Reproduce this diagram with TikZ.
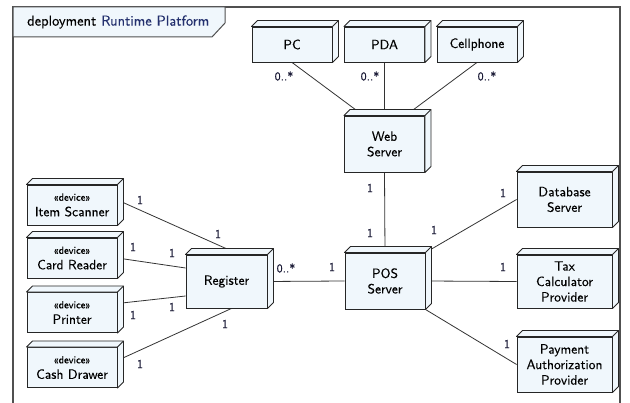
\documentclass[tikz,border=0pt]{standalone}
\usepackage{fontspec}
\usetikzlibrary{backgrounds}
% a slightly heavier Latin Modern Sans for all labels
\newfontfamily\diagfont{lmsans10-regular}[Extension=.otf, FakeBold=0.35]
\definecolor{boxfill}{HTML}{F0F7FC}
\definecolor{framegray}{HTML}{505050}
\definecolor{navy}{HTML}{23306E}
\definecolor{multtext}{HTML}{1C1C38}
\begin{document}
\begin{tikzpicture}[x=1pt,y=-1pt,
  hw/.style 2 args={draw=black!85, fill=boxfill, line width=0.9pt, align=center,
    inner sep=0pt, minimum width=#1pt, minimum height=#2pt,
    font=\diagfont\fontsize{13.5}{15.5}\selectfont},
  dev/.style={hw={90}{40}},
  link/.style={draw=black!80, line width=0.8pt},
  mult/.style={font=\diagfont\fontsize{12}{13}\selectfont, text=multtext, inner sep=0pt},
  depth/.style={draw=black!85, fill=boxfill, line width=0.9pt, line join=round}
]
\newcommand{\stereo}[1]{{\fontsize{10.5}{11}\selectfont «#1»}}
\useasboundingbox (0,0) rectangle (630,403);

% package frame with its name tab
\draw[framegray, line width=1.2pt] (13,403) -- (13,7) -- (620,7) -- (620,403);
\path[fill=boxfill, draw=framegray, line width=1pt]
  (13,7) -- (225,7) -- (225,23) -- (212,37) -- (13,37) -- cycle;
\node[anchor=west, inner sep=0pt, font=\diagfont\fontsize{14.5}{16}\selectfont] (title)
  at (27,22) {deployment \textcolor{navy}{Runtime Platform}};

% client devices
\node[hw={80}{35}] (pc)   at (292,44.5)   {PC};
\node[hw={80}{35}] (pda)  at (384.5,44.5) {PDA};
\node[hw={80}{35}] (cell) at (477,44.5)   {Cellphone};

% servers
\node[hw={80}{56}] (web) at (384.5,144) {Web\\Server};
\node[hw={80}{56}] (pos) at (385,281)   {POS\\Server};
\node[hw={81}{53}] (reg) at (226.5,281.5) {Register};

% external providers
\node[hw={95}{55}] (db)  at (564.5,199.5) {Database\\Server};
\node[hw={95}{53}] (tax) at (564.5,281.5) {Tax\\Calculator\\Provider};
\node[hw={95}{55}] (pay) at (564.5,364.5) {Payment\\Authorization\\Provider};

% register peripherals
\node[dev] (scan) at (72,205)   {\stereo{device}\\Item Scanner};
\node[dev] (card) at (72,258)   {\stereo{device}\\Card Reader};
\node[dev] (prn)  at (72,312.5) {\stereo{device}\\Printer};
\node[dev] (cash) at (72,367.5) {\stereo{device}\\Cash Drawer};

% top and right faces of every node box
\foreach \n in {pc,pda,cell,web,pos,reg,db,tax,pay,scan,card,prn,cash}{
  \path[depth] (\n.north west) -- ++(6,-6) -- ([shift={(6,-6)}]\n.north east)
    -- ([shift={(6,-6)}]\n.south east) -- (\n.south east) -- (\n.north east) -- cycle;
  \draw[depth, fill=none] (\n.north east) -- ++(6,-6);
}

% communication paths
\begin{pgfonlayer}{background}
  \draw[link] (pc.south)   -- ([xshift=-21pt]web.north);
  \draw[link] (pda.south)  -- (web.north);
  \draw[link] (cell.south) -- ([xshift=21pt]web.north);
  \draw[link] (web.south)  -- (pos.north);
  \draw[link] (pos.north east) -- (db.west);
  \draw[link] (pos.east)   -- (tax.west);
  \draw[link] (pos.south east) -- (pay.west);
  \draw[link] (reg.east)   -- (pos.west);
  \draw[link] ([yshift=5pt]scan.east) -- ([xshift=13pt]reg.north);
  \draw[link] (card.east)  -- ([yshift=13.5pt]reg.west);
  \draw[link] ([yshift=9pt]prn.east) -- ([yshift=-14.5pt]reg.west);
  \draw[link] ([yshift=7pt]cash.east) -- ([xshift=5pt]reg.south);
\end{pgfonlayer}

% multiplicities
\node[mult] (m1)  at (284,76)  {0..*};
\node[mult] (m2)  at (370,76)  {0..*};
\node[mult] (m3)  at (487,76)  {0..*};
\node[mult] (m4)  at (370,188) {1};
\node[mult] (m5)  at (370,233) {1};
\node[mult] (m6)  at (434,230) {1};
\node[mult] (m7)  at (503,193) {1};
\node[mult] (m8)  at (503,267) {1};
\node[mult] (m9)  at (507,344) {1};
\node[mult] (m10) at (286,268) {0..*};
\node[mult] (m11) at (332,267) {1};
\node[mult] (m12) at (140,200) {1};
\node[mult] (m13) at (218,234) {1};
\node[mult] (m14) at (133,247) {1};
\node[mult] (m15) at (172,253) {1};
\node[mult] (m16) at (133,315) {1};
\node[mult] (m17) at (172,307) {1};
\node[mult] (m18) at (140,364) {1};
\node[mult] (m19) at (225,324) {1};
\end{tikzpicture}
\end{document}
